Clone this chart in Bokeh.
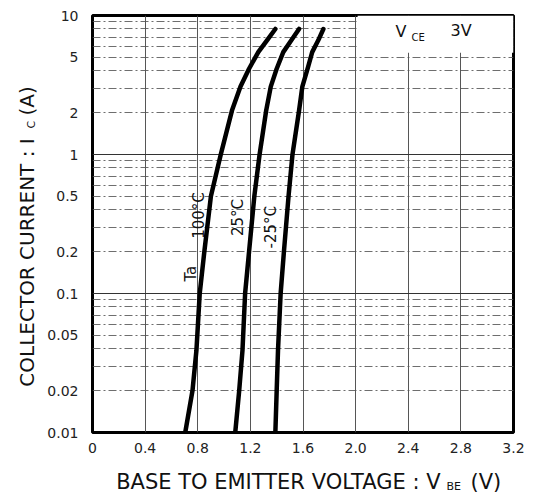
import math
from bokeh.plotting import figure
from bokeh.layouts import row, column
from bokeh.models import (Range1d, FixedTicker, CustomJSTickFormatter, Label,
                          BoxAnnotation, Grid)
from bokeh.embed import file_html
from bokeh.resources import INLINE

# ---- data ----
v_100 = [0.705, 0.76, 0.79, 0.815, 0.85, 0.90, 0.975, 1.06, 1.125, 1.19, 1.26, 1.325, 1.39]
i_100 = [0.01, 0.020, 0.039, 0.10, 0.20, 0.5, 1.0, 2.07, 3.08, 4.14, 5.45, 6.6, 8.0]

v_25 = [1.085, 1.115, 1.14, 1.16, 1.19, 1.23, 1.27, 1.32, 1.355, 1.40, 1.45, 1.51, 1.57]
i_25 = [0.01, 0.020, 0.039, 0.10, 0.20, 0.5, 1.0, 2.07, 3.08, 4.14, 5.45, 6.6, 8.0]

v_m25 = [1.39, 1.40, 1.41, 1.43, 1.455, 1.49, 1.52, 1.57, 1.595, 1.635, 1.67, 1.715, 1.755]
i_m25 = [0.01, 0.020, 0.039, 0.10, 0.20, 0.5, 1.0, 2.07, 3.08, 4.14, 5.45, 6.6, 8.0]

x_ticks = [0, 0.4, 0.8, 1.2, 1.6, 2.0, 2.4, 2.8, 3.2]
y_ticks = [0.01, 0.02, 0.05, 0.1, 0.2, 0.5, 1, 2, 5, 10]
y_grid_levels = [m * d for d in (0.01, 0.1, 1) for m in range(1, 10)][1:]
y_major_grid = [0.1, 1]
y_minor_grid = [v for v in y_grid_levels if v not in y_major_grid]

FONT = "DejaVu Sans"
W, H = 541, 495
LEFT_W = 40          # strip holding the y-axis title
BOTTOM_H = 30        # strip holding the x-axis title
MAIN_W, MAIN_H = W - LEFT_W, H - BOTTOM_H

p = figure(width=MAIN_W, height=MAIN_H, y_axis_type="log",
           x_range=Range1d(0, 3.2), y_range=Range1d(0.01, 10),
           output_backend="svg", toolbar_location=None,
           min_border_left=92 - LEFT_W, min_border_right=28,
           min_border_top=15, min_border_bottom=MAIN_H - 432)
p.background_fill_color = "white"
p.border_fill_color = "white"
p.outline_line_color = "black"
p.outline_line_width = 3

# axes
for ax in (p.xaxis[0], p.yaxis[0]):
    ax.axis_line_color = None
    ax.major_tick_line_color = None
    ax.minor_tick_line_color = None
    ax.major_label_text_font = FONT
    ax.major_label_text_font_size = "14px"
    ax.major_label_text_color = "#222222"

p.xaxis.ticker = FixedTicker(ticks=x_ticks)
p.xaxis.formatter = CustomJSTickFormatter(code="return tick == 0 ? '0' : tick.toFixed(1);")
p.xaxis.major_label_standoff = 4
p.yaxis.ticker = FixedTicker(ticks=y_ticks)
p.yaxis.formatter = CustomJSTickFormatter(code="return String(tick);")
p.yaxis.major_label_standoff = 8

# grids
p.xgrid.ticker = FixedTicker(ticks=x_ticks[1:-1])
p.xgrid.grid_line_color = "#444444"
p.xgrid.grid_line_width = 1
p.xgrid.grid_line_alpha = 0.9
p.ygrid.ticker = FixedTicker(ticks=y_minor_grid)
p.ygrid.grid_line_color = "#555555"
p.ygrid.grid_line_width = 1
p.ygrid.grid_line_dash = "8 3 2 3"
p.ygrid.grid_line_alpha = 0.85

g2 = Grid(dimension=1, ticker=FixedTicker(ticks=y_major_grid),
          grid_line_color="#333333", grid_line_width=1)
p.add_layout(g2)

# clear area for the condition label (top right)
p.add_layout(BoxAnnotation(left=2.015, right=3.2, bottom=5.4, top=10,
                           fill_color="white", fill_alpha=1.0, line_alpha=0,
                           level="underlay"))

# curves
for vx, iy in ((v_100, i_100), (v_25, i_25), (v_m25, i_m25)):
    p.line(vx, iy, line_color="black", line_width=4.5, line_join="round", line_cap="round")

# curve labels (rotated)
def rlabel(x, y, t):
    p.add_layout(Label(x=x, y=y, text=t, angle=math.pi / 2, text_align="center",
                       text_baseline="middle", text_font=FONT,
                       text_font_size="15px", text_color="#111111"))

rlabel(0.748, 0.139, "Ta")
rlabel(0.808, 0.364, "100°C")
rlabel(1.104, 0.352, "25°C")
rlabel(1.355, 0.30, "-25°C")

# labels placed by picture pixel position (converted to frame-relative screen units)
def plabel(fig, ox, oy, xi, yi, t, size, align="left", angle=0.0):
    # ox, oy: picture position of the frame's bottom-left corner
    fig.add_layout(Label(x=xi - ox, y=oy - yi, x_units="screen", y_units="screen",
                         text=t, text_font=FONT, text_font_size=size,
                         text_align=align, text_baseline="middle", angle=angle,
                         text_color="#111111"))

# condition label V_CE 3V (inside the main frame)
plabel(p, 92, 432, 395, 31, "V", "16px")
plabel(p, 92, 432, 411, 37, "CE", "10px")
plabel(p, 92, 432, 450, 30, "3V", "16px")

def strip(w, h):
    f = figure(width=w, height=h, x_range=Range1d(0, w), y_range=Range1d(0, h),
               output_backend="svg", toolbar_location=None,
               x_axis_location=None, y_axis_location=None,
               min_border=0, min_border_left=0, min_border_right=0,
               min_border_top=0, min_border_bottom=0)
    f.outline_line_color = None
    f.xgrid.visible = False
    f.ygrid.visible = False
    f.background_fill_color = "white"
    f.border_fill_color = "white"
    return f

# y axis title strip: COLLECTOR CURRENT : I_C (A)  (its frame bottom sits at y=483)
left = strip(LEFT_W, H)
plabel(left, 0, 483, 26, 250, "COLLECTOR CURRENT : I", "20px", align="center", angle=math.pi / 2)
plabel(left, 0, 483, 31, 116, "C", "11px", angle=math.pi / 2)
plabel(left, 0, 483, 26, 103, "(A)", "20px", angle=math.pi / 2)

# x axis title strip: BASE TO EMITTER VOLTAGE : V_BE (V)  (its frame is aligned at x=92)
bottom = strip(MAIN_W, BOTTOM_H)
plabel(bottom, 92, H, 440, 481, "BASE TO EMITTER VOLTAGE : V", "21px", align="right")
plabel(bottom, 92, H, 446, 486, "BE", "11px")
plabel(bottom, 92, H, 470, 481, "(V)", "21px")

layout = row(left, column(p, bottom, spacing=0), spacing=0)

open("out.html", "w").write(file_html(layout, INLINE))
